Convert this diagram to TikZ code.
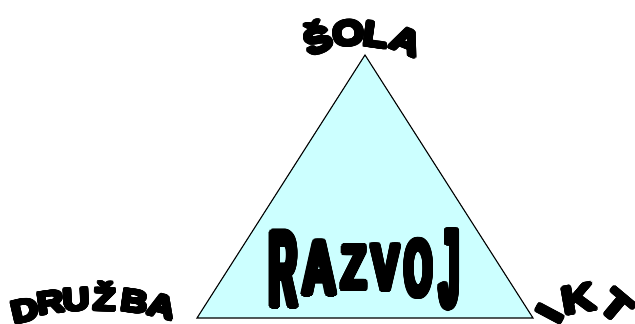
\documentclass[tikz,border=0pt]{standalone}
\usepackage{fontspec}
\usepackage{graphicx}
\usepackage[copies]{contour}
\contournumber{24}
\newfontfamily\heavyfont{Liberation Sans}
\definecolor{trifill}{HTML}{CCFFFF}
\newcommand\hvletter[2]{{\contourlength{#1}\contour{black}{#2}}}
\newcommand\wide[1]{\scalebox{1.2}[1]{#1}}
\begin{document}
\begin{tikzpicture}[x=1pt,y=-1pt,
  letter/.style={inner sep=0pt, outer sep=0pt, anchor=base, text=black},
  solaletter/.style={letter, font=\heavyfont\bfseries\fontsize{34}{34}\selectfont},
  druzletter/.style={letter, font=\heavyfont\bfseries\fontsize{31}{31}\selectfont},
  iktletter/.style={letter, font=\heavyfont\bfseries\fontsize{38}{38}\selectfont},
  razletter/.style={inner sep=0pt, outer sep=0pt, anchor=center, font=\heavyfont\bfseries},
  tri/.style={draw=black, line width=1.1pt, fill=trifill, line join=miter}]
\useasboundingbox (0,0) rectangle (635,324);
\clip (0,0) rectangle (635,324);
% triangle
\coordinate (apex) at (365,55);
\coordinate (bl) at (197,318);
\coordinate (br) at (533,318);
\draw[tri] (apex) -- (bl) -- (br) -- cycle;
% SOLA
\node[solaletter, rotate=20] (s1) at (322.2,51.5) {\hvletter{1.9pt}{\wide{Š}}};
\node[solaletter, rotate=6] (s2) at (349.8,45.1) {\hvletter{1.9pt}{\wide{O}}};
\node[solaletter, rotate=-8] (s3) at (374.3,46.6) {\hvletter{1.9pt}{\wide{L}}};
\node[solaletter, rotate=-22] (s4) at (401.9,52.3) {\hvletter{1.9pt}{\wide{A}}};
% DRUZBA
\node[druzletter, rotate=13] (d1) at (27.5,320.8) {\hvletter{1.7pt}{\wide{D}}};
\node[druzletter, rotate=8] (d2) at (52,313) {\hvletter{1.7pt}{\wide{R}}};
\node[druzletter, rotate=3] (d3) at (76.6,310.1) {\hvletter{1.7pt}{\wide{U}}};
\node[druzletter, rotate=-2] (d4) at (104,310.1) {\hvletter{1.7pt}{\wide{Ž}}};
\node[druzletter, rotate=-8] (d5) at (133,312) {\hvletter{1.7pt}{\wide{B}}};
\node[druzletter, rotate=-14] (d6) at (159.5,316.8) {\hvletter{1.7pt}{\wide{A}}};
% IKT
\node[iktletter, rotate=62] (i1) at (561.5,319.9) {\hvletter{1.9pt}{\wide{I}}};
\node[iktletter, rotate=10] (i2) at (580.9,311.9) {\hvletter{1.9pt}{\wide{K}}};
\node[iktletter, rotate=-40] (i3) at (608.3,316.4) {\hvletter{1.9pt}{\wide{T}}};
% RAZVOJ
\node[razletter] (r1) at (283.5,270.8) {\hvletter{2.8pt}{\resizebox{27.4pt}{74.2pt}{R}}};
\node[razletter] (r2) at (319.5,269.5) {\hvletter{2.8pt}{\resizebox{33.4pt}{52.3pt}{A}}};
\node[razletter] (r3) at (354,269) {\hvletter{2.8pt}{\resizebox{24.4pt}{43pt}{Z}}};
\node[razletter] (r4) at (385.5,269.1) {\hvletter{2.8pt}{\resizebox{27.4pt}{44.4pt}{V}}};
\node[razletter] (r5) at (418.5,269.8) {\hvletter{2.8pt}{\resizebox{27.4pt}{56.1pt}{O}}};
\node[razletter] (r6) at (449.5,270.9) {\hvletter{2.8pt}{\resizebox{19.4pt}{76.6pt}{J}}};
\end{tikzpicture}
\end{document}
